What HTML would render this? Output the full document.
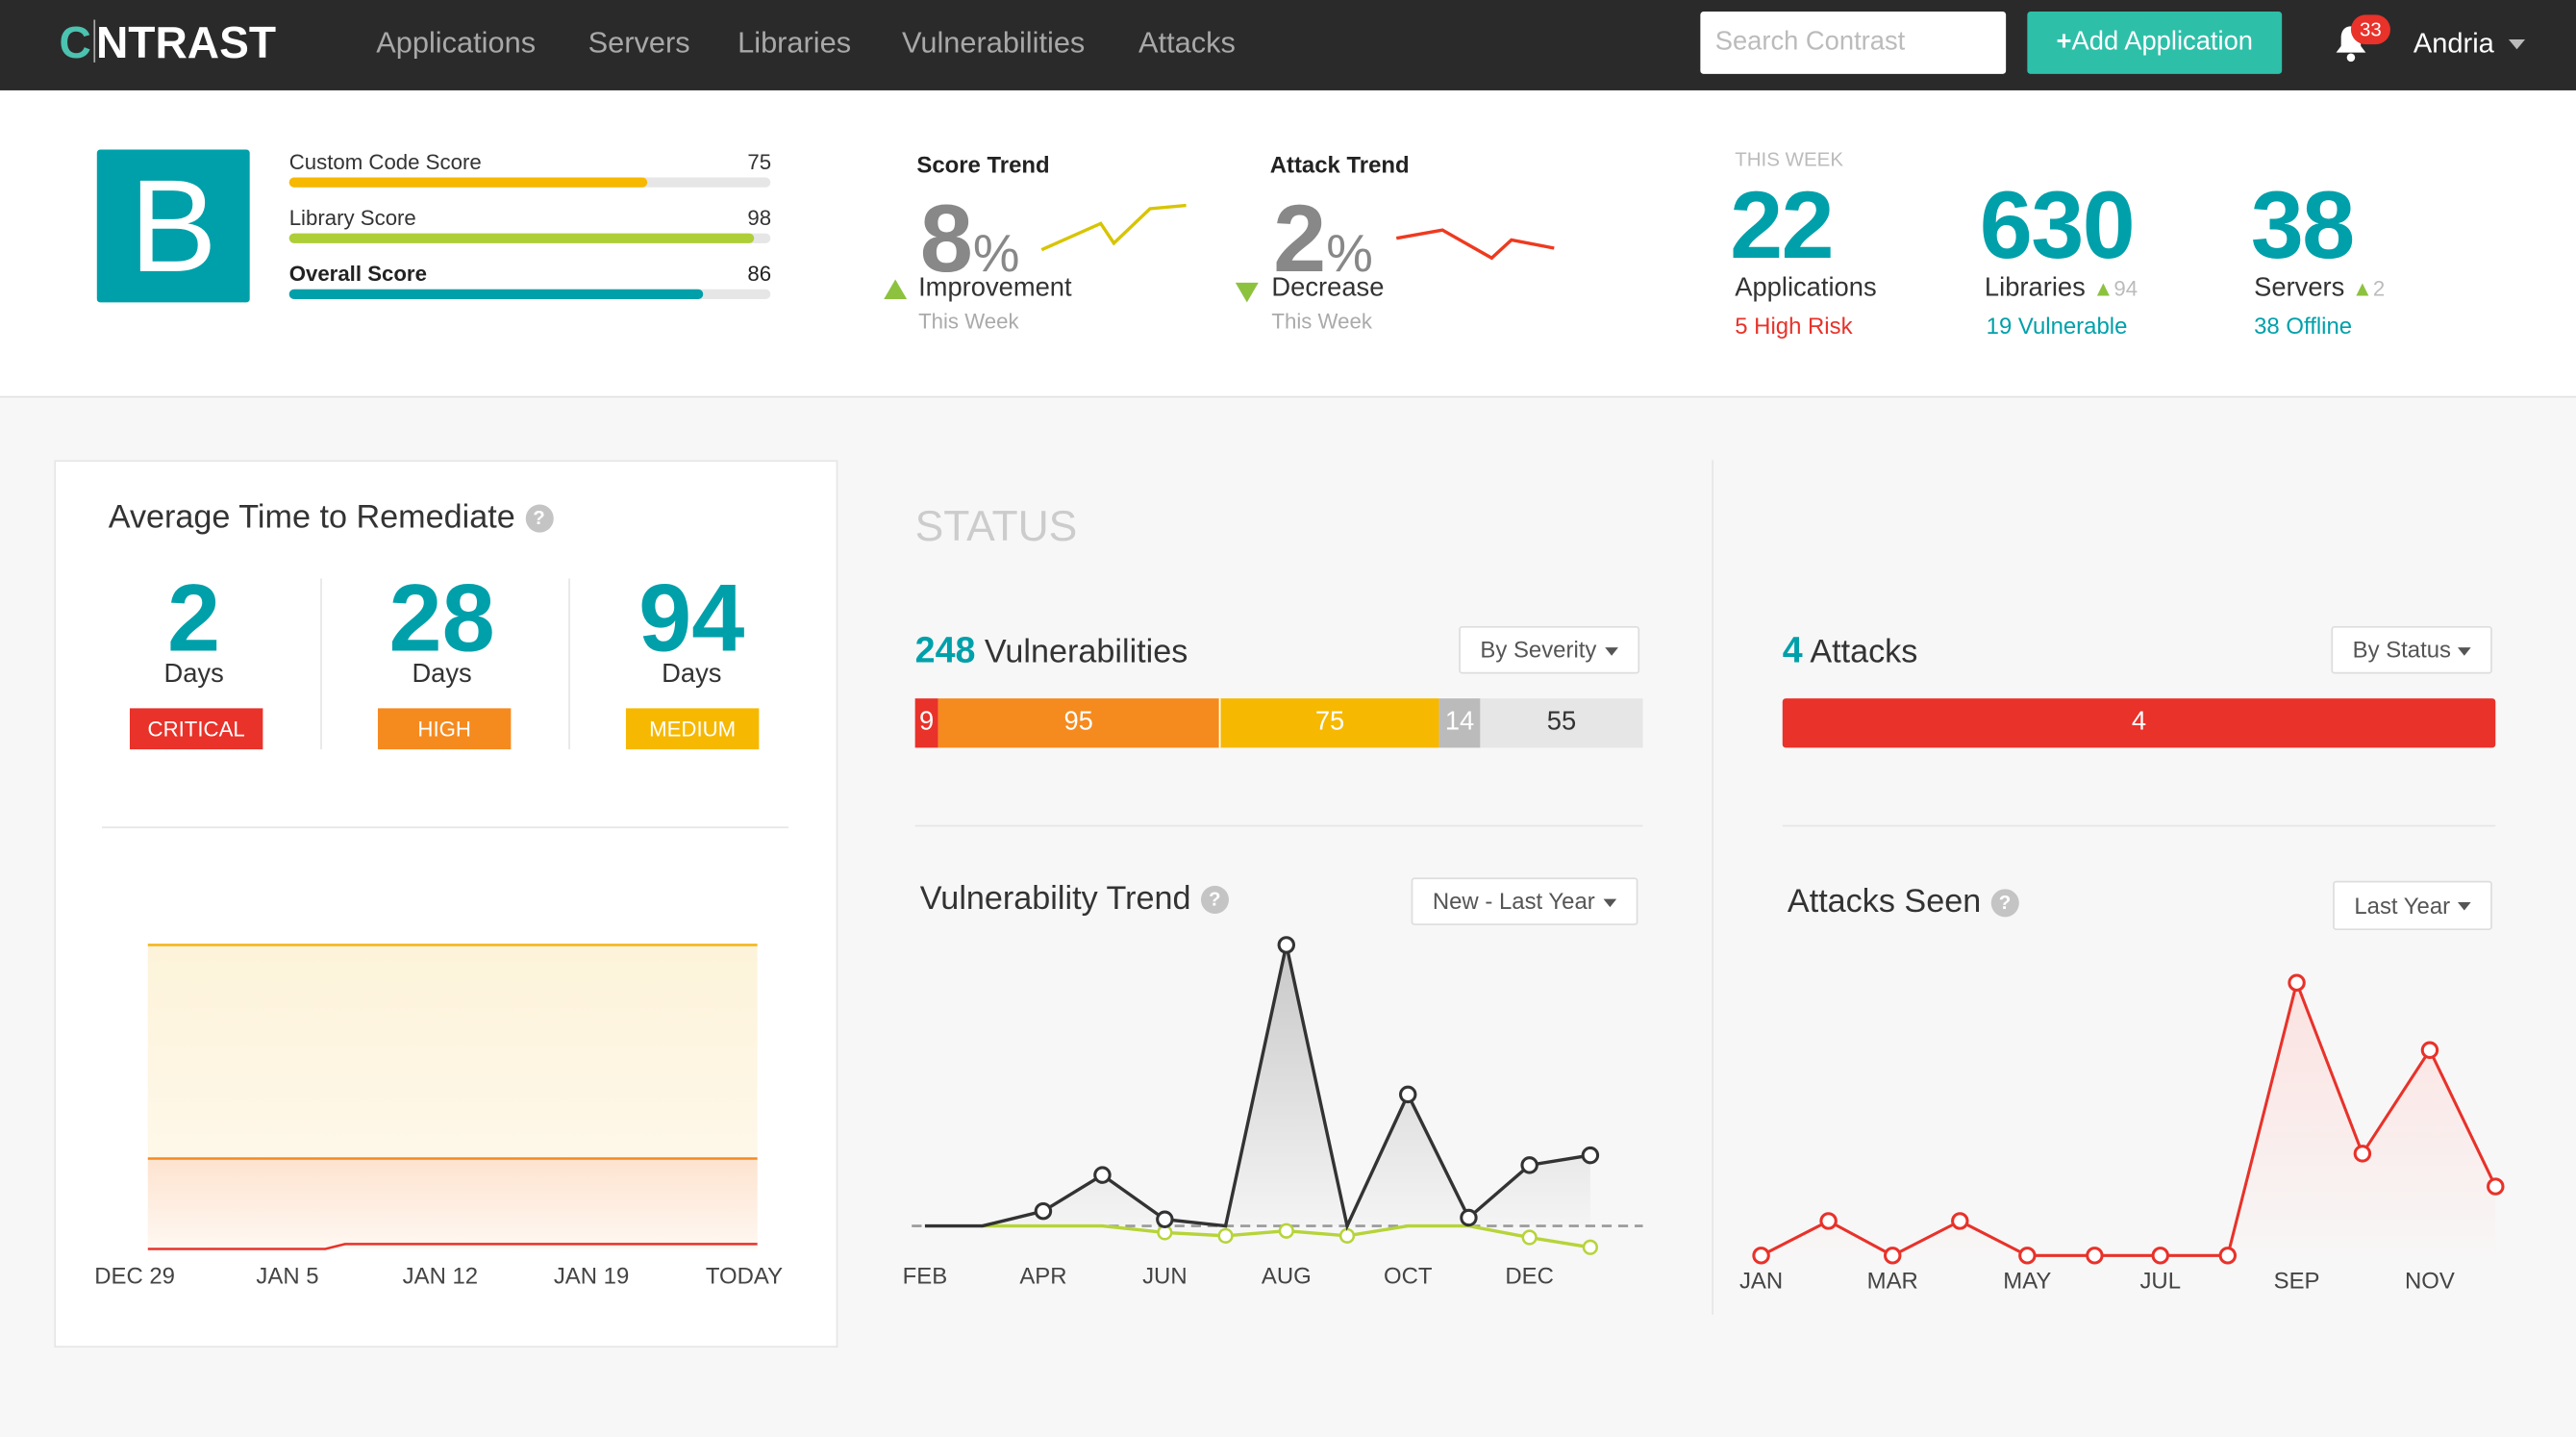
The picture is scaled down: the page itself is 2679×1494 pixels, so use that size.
<!DOCTYPE html>
<html><head><meta charset="utf-8"><style>
html,body{margin:0;padding:0;}
body{width:2679px;height:1494px;overflow:hidden;background:#f7f7f7;font-family:"Liberation Sans",sans-serif;}
#w{position:absolute;left:0;top:0;width:1568px;height:874px;transform:scale(1.70855);transform-origin:0 0;background:#f7f7f7;}
.a{position:absolute;white-space:nowrap;}
.nav{position:absolute;left:0;top:0;width:1568px;height:55px;background:#2a2a2a;}
.nl{color:#a8a8a8;font-size:18px;top:16px;}
.top{position:absolute;left:0;top:55px;width:1568px;height:186px;background:#fff;border-bottom:1px solid #e2e2e2;}
.bar{position:absolute;height:6px;border-radius:3px;background:#e6e6e6;left:176px;width:293px;}
.bar i{display:block;height:6px;border-radius:3px;}
.teal{color:#00a0aa;}
.dd{position:absolute;background:#fff;border:1px solid #ddd;border-radius:2px;font-size:14px;color:#555;box-sizing:border-box;padding-left:12px;}
.dd:after{content:"";position:absolute;right:12px;top:50%;margin-top:-2px;border:4px solid transparent;border-top:5px solid #555;border-bottom:0;}
.q{display:inline-block;width:17px;height:17px;border-radius:50%;background:#c4c4c4;color:#fff;font-size:12px;text-align:center;line-height:17px;font-weight:bold;vertical-align:2px;margin-left:6px;}
.badge{position:absolute;width:81px;height:25px;color:#fff;font-size:13px;text-align:center;line-height:25px;top:431px;}
.seg{position:absolute;top:425px;height:30px;line-height:30px;text-align:center;color:#fff;font-size:16px;}
.lab{font-size:14px;color:#444;transform:translateX(-50%);}
</style></head><body><div id="w">
<div class="nav">
 <div class="a" style="left:36px;top:11px;font-size:27px;font-weight:bold;color:#fff;letter-spacing:0px;"><span style="color:#4cc2b0">C</span><span style="display:inline-block;width:1px;height:26px;background:#aaa;vertical-align:-3px;margin:0 1px"></span>NTRAST</div>
 <div class="a nl" style="left:229px">Applications</div>
 <div class="a nl" style="left:358px">Servers</div>
 <div class="a nl" style="left:449px">Libraries</div>
 <div class="a nl" style="left:549px">Vulnerabilities</div>
 <div class="a nl" style="left:693px">Attacks</div>
 <div class="a" style="left:1035px;top:7px;width:186px;height:38px;background:#fff;border-radius:2px;"><span class="a" style="left:9px;top:10px;color:#bbb;font-size:16px">Search Contrast</span></div>
 <div class="a" style="left:1234px;top:7px;width:155px;height:38px;background:#2ebfa9;border-radius:2px;color:#fff;font-size:16px;line-height:38px;text-align:center;"><b>+</b>Add Application</div>
 <svg class="a" style="left:1420px;top:14px" width="22" height="24" viewBox="0 0 22 24"><path d="M11 2c-4 0-6 3-6 7v5l-3 4h18l-3-4V9c0-4-2-7-6-7z" fill="#fff"/><circle cx="11" cy="21" r="2.5" fill="#fff"/></svg>
 <div class="a" style="left:1431px;top:9px;width:24px;height:18px;border-radius:9px;background:#e8322a;color:#fff;font-size:12px;text-align:center;line-height:18px;">33</div>
 <div class="a" style="left:1469px;top:17px;color:#fff;font-size:17px;">Andria</div>
 <div class="a" style="left:1527px;top:24px;border:5px solid transparent;border-top:6px solid #bbb;"></div>
</div>
<div class="top"></div>
<div class="a" style="left:59px;top:91px;width:93px;height:93px;background:#00a0aa;border-radius:2px;color:#fff;font-size:80px;text-align:center;line-height:93px;">B</div>
<div class="a" style="left:176px;top:91px;font-size:13px;color:#333">Custom Code Score</div><div class="a" style="left:455px;top:91px;font-size:13px;color:#333">75</div>
<div class="bar" style="top:108px"><i style="width:218px;background:#f6b800"></i></div>
<div class="a" style="left:176px;top:125px;font-size:13px;color:#333">Library Score</div><div class="a" style="left:455px;top:125px;font-size:13px;color:#333">98</div>
<div class="bar" style="top:142px"><i style="width:283px;background:#aece37"></i></div>
<div class="a" style="left:176px;top:159px;font-size:13px;color:#222;font-weight:bold">Overall Score</div><div class="a" style="left:455px;top:159px;font-size:13px;color:#222">86</div>
<div class="bar" style="top:176px"><i style="width:252px;background:#00a0aa"></i></div>

<div class="a" style="left:558px;top:92px;font-size:14px;font-weight:bold;color:#222">Score Trend</div>
<div class="a" style="left:560px;top:112px;font-size:58px;color:#888;font-weight:bold">8<span style="font-size:32px;font-weight:normal">%</span></div>
<svg class="a" style="left:630px;top:120px" width="96" height="40"><polyline points="4,32 40,16 48,28 70,7 92,5" fill="none" stroke="#d8c400" stroke-width="2"/></svg>
<div class="a" style="left:538px;top:170px;border:7px solid transparent;border-bottom:12px solid #8dc23f;border-top:0"></div>
<div class="a" style="left:559px;top:167px;font-size:16px;color:#333">Improvement</div>
<div class="a" style="left:559px;top:188px;font-size:13px;color:#aaa">This Week</div>

<div class="a" style="left:773px;top:92px;font-size:14px;font-weight:bold;color:#222">Attack Trend</div>
<div class="a" style="left:775px;top:112px;font-size:58px;color:#888;font-weight:bold">2<span style="font-size:32px;font-weight:normal">%</span></div>
<svg class="a" style="left:848px;top:134px" width="102" height="30"><polyline points="2,11 30,6 60,23 72,12 98,17" fill="none" stroke="#ee3a1f" stroke-width="2"/></svg>
<div class="a" style="left:752px;top:172px;border:7px solid transparent;border-top:12px solid #8dc23f;border-bottom:0"></div>
<div class="a" style="left:774px;top:167px;font-size:16px;color:#333">Decrease</div>
<div class="a" style="left:774px;top:188px;font-size:13px;color:#aaa">This Week</div>

<div class="a" style="left:1056px;top:90px;font-size:12px;color:#bbb">THIS WEEK</div>
<div class="a teal" style="left:1053px;top:104px;font-size:58px;font-weight:bold;letter-spacing:-1px">22</div>
<div class="a" style="left:1056px;top:167px;font-size:16px;color:#333">Applications</div>
<div class="a" style="left:1056px;top:190px;font-size:14px;color:#e8322a">5 High Risk</div>
<div class="a teal" style="left:1205px;top:104px;font-size:58px;font-weight:bold;letter-spacing:-1px">630</div>
<div class="a" style="left:1208px;top:167px;font-size:16px;color:#333">Libraries <span style="color:#8dc23f;font-size:13px">▲</span><span style="color:#bbb;font-size:13px">94</span></div>
<div class="a teal" style="left:1209px;top:190px;font-size:14px">19 Vulnerable</div>
<div class="a teal" style="left:1370px;top:104px;font-size:58px;font-weight:bold;letter-spacing:-1px">38</div>
<div class="a" style="left:1372px;top:167px;font-size:16px;color:#333">Servers <span style="color:#8dc23f;font-size:13px">▲</span><span style="color:#bbb;font-size:13px">2</span></div>
<div class="a teal" style="left:1372px;top:190px;font-size:14px">38 Offline</div>

<!-- left card -->
<div class="a" style="left:33px;top:280px;width:475px;height:538px;background:#fff;border:1px solid #e6e6e6;"></div>
<div class="a" style="left:66px;top:304px;font-size:20px;color:#333">Average Time to Remediate<span class="q">?</span></div>
<div class="a teal" style="left:68px;top:343px;width:100px;text-align:center;font-size:58px;font-weight:bold">2</div>
<div class="a teal" style="left:219px;top:343px;width:100px;text-align:center;font-size:58px;font-weight:bold">28</div>
<div class="a teal" style="left:371px;top:343px;width:100px;text-align:center;font-size:58px;font-weight:bold">94</div>
<div class="a" style="left:68px;top:402px;width:100px;text-align:center;font-size:16px;color:#333">Days</div>
<div class="a" style="left:219px;top:402px;width:100px;text-align:center;font-size:16px;color:#333">Days</div>
<div class="a" style="left:371px;top:402px;width:100px;text-align:center;font-size:16px;color:#333">Days</div>
<div class="a" style="left:195px;top:352px;width:1px;height:104px;background:#e6e6e6"></div>
<div class="a" style="left:346px;top:352px;width:1px;height:104px;background:#e6e6e6"></div>
<div class="badge" style="left:79px;background:#e8322a">CRITICAL</div>
<div class="badge" style="left:230px;background:#f58a1f">HIGH</div>
<div class="badge" style="left:381px;background:#f6b800">MEDIUM</div>
<div class="a" style="left:62px;top:503px;width:418px;height:1px;background:#e6e6e6"></div>
<svg class="a" style="left:0;top:0" width="510" height="800">
<defs><linearGradient id="gy" x1="0" y1="0" x2="0" y2="1"><stop offset="0" stop-color="#fdf3da"/><stop offset="1" stop-color="#fffaf0"/></linearGradient>
<linearGradient id="go" x1="0" y1="0" x2="0" y2="1"><stop offset="0" stop-color="#fde3cf"/><stop offset="1" stop-color="#fff8f2"/></linearGradient></defs>
<rect x="90" y="575" width="371" height="185" fill="url(#gy)"/>
<rect x="90" y="705" width="371" height="55" fill="url(#go)"/>
<line x1="90" y1="575" x2="461" y2="575" stroke="#f3b61f" stroke-width="1.5"/>
<line x1="90" y1="705" x2="461" y2="705" stroke="#f58a1f" stroke-width="1.5"/>
<polyline points="90,760 198,760 210,757 461,757" fill="none" stroke="#e8322a" stroke-width="1.5"/>
</svg>
<div class="a lab" style="left:82px;top:768px">DEC 29</div>
<div class="a lab" style="left:175px;top:768px">JAN 5</div>
<div class="a lab" style="left:268px;top:768px">JAN 12</div>
<div class="a lab" style="left:360px;top:768px">JAN 19</div>
<div class="a lab" style="left:453px;top:768px">TODAY</div>

<!-- status -->
<div class="a" style="left:557px;top:305px;font-size:26px;color:#ccc">STATUS</div>
<div class="a" style="left:557px;top:383px;font-size:20px;color:#333"><b class="teal" style="font-size:22px">248</b> Vulnerabilities</div>
<div class="dd" style="left:888px;top:381px;width:110px;height:29px;line-height:27px">By Severity</div>
<div class="seg" style="left:557px;width:14px;background:#e8322a">9</div>
<div class="seg" style="left:571px;width:171px;background:#f58a1f">95</div>
<div class="seg" style="left:742px;width:134px;background:#f6b800;border-left:1px solid #fff;box-sizing:border-box">75</div>
<div class="seg" style="left:876px;width:25px;background:#bbb">14</div>
<div class="seg" style="left:901px;width:99px;background:#e6e6e6;color:#333">55</div>
<div class="a" style="left:557px;top:502px;width:443px;height:1px;background:#e6e6e6"></div>
<div class="a" style="left:1042px;top:280px;width:1px;height:520px;background:#e6e6e6"></div>
<div class="a" style="left:1085px;top:383px;font-size:20px;color:#333"><b class="teal" style="font-size:22px">4</b> Attacks</div>
<div class="dd" style="left:1419px;top:381px;width:98px;height:29px;line-height:27px">By Status</div>
<div class="seg" style="left:1085px;width:434px;background:#e8322a;border-radius:2px">4</div>
<div class="a" style="left:1085px;top:502px;width:434px;height:1px;background:#e6e6e6"></div>

<div class="a" style="left:560px;top:536px;font-size:20px;color:#333">Vulnerability Trend<span class="q">?</span></div>
<div class="dd" style="left:859px;top:534px;width:138px;height:29px;line-height:27px">New - Last Year</div>
<div class="a" style="left:1088px;top:538px;font-size:20px;color:#333">Attacks Seen<span class="q">?</span></div>
<div class="dd" style="left:1420px;top:536px;width:97px;height:30px;line-height:28px">Last Year</div>

<svg class="a" style="left:0;top:0" width="1568" height="874">
<defs><linearGradient id="gg" x1="0" y1="575" x2="0" y2="746" gradientUnits="userSpaceOnUse"><stop offset="0" stop-color="#c8c8c8"/><stop offset="1" stop-color="#f4f4f4"/></linearGradient>
<linearGradient id="gr" x1="0" y1="598" x2="0" y2="764" gradientUnits="userSpaceOnUse"><stop offset="0" stop-color="#fbe2e0"/><stop offset="1" stop-color="#f8f6f6"/></linearGradient></defs>
<polygon points="563,746 598,746 635,737 671,715 709,742 746,746 783,575 820,746 857,666 894,741 931,709 968,703 968,746" fill="url(#gg)"/>
<line x1="555" y1="746" x2="1000" y2="746" stroke="#999" stroke-width="1.5" stroke-dasharray="6,4"/>
<polyline points="598,746 671,746 709,750 746,752 783,749 820,752 857,746 894,746 931,753 968,759" fill="none" stroke="#b6d43a" stroke-width="2"/>
<g fill="#fff" stroke="#b6d43a" stroke-width="1.5"><circle cx="709" cy="750" r="4"/><circle cx="746" cy="752" r="4"/><circle cx="783" cy="749" r="4"/><circle cx="820" cy="752" r="4"/><circle cx="931" cy="753" r="4"/><circle cx="968" cy="759" r="4"/></g>
<polyline points="563,746 598,746 635,737 671,715 709,742 746,746 783,575 820,746 857,666 894,741 931,709 968,703" fill="none" stroke="#333" stroke-width="2"/>
<g fill="#fff" stroke="#333" stroke-width="1.8"><circle cx="635" cy="737" r="4.5"/><circle cx="671" cy="715" r="4.5"/><circle cx="709" cy="742" r="4.5"/><circle cx="783" cy="575" r="4.5"/><circle cx="857" cy="666" r="4.5"/><circle cx="894" cy="741" r="4.5"/><circle cx="931" cy="709" r="4.5"/><circle cx="968" cy="703" r="4.5"/></g>
<polygon points="1072,764 1113,743 1152,764 1193,743 1234,764 1356,764 1398,598 1438,702 1479,639 1519,722 1519,764" fill="url(#gr)"/>
<polyline points="1072,764 1113,743 1152,764 1193,743 1234,764 1275,764 1315,764 1356,764 1398,598 1438,702 1479,639 1519,722" fill="none" stroke="#e8322a" stroke-width="1.8"/>
<g fill="#fff" stroke="#e8322a" stroke-width="1.8"><circle cx="1072" cy="764" r="4.5"/><circle cx="1113" cy="743" r="4.5"/><circle cx="1152" cy="764" r="4.5"/><circle cx="1193" cy="743" r="4.5"/><circle cx="1234" cy="764" r="4.5"/><circle cx="1275" cy="764" r="4.5"/><circle cx="1315" cy="764" r="4.5"/><circle cx="1356" cy="764" r="4.5"/><circle cx="1398" cy="598" r="4.5"/><circle cx="1438" cy="702" r="4.5"/><circle cx="1479" cy="639" r="4.5"/><circle cx="1519" cy="722" r="4.5"/></g>
</svg>
<div class="a lab" style="left:563px;top:768px">FEB</div>
<div class="a lab" style="left:635px;top:768px">APR</div>
<div class="a lab" style="left:709px;top:768px">JUN</div>
<div class="a lab" style="left:783px;top:768px">AUG</div>
<div class="a lab" style="left:857px;top:768px">OCT</div>
<div class="a lab" style="left:931px;top:768px">DEC</div>
<div class="a lab" style="left:1072px;top:771px">JAN</div>
<div class="a lab" style="left:1152px;top:771px">MAR</div>
<div class="a lab" style="left:1234px;top:771px">MAY</div>
<div class="a lab" style="left:1315px;top:771px">JUL</div>
<div class="a lab" style="left:1398px;top:771px">SEP</div>
<div class="a lab" style="left:1479px;top:771px">NOV</div>
</div></body></html>
